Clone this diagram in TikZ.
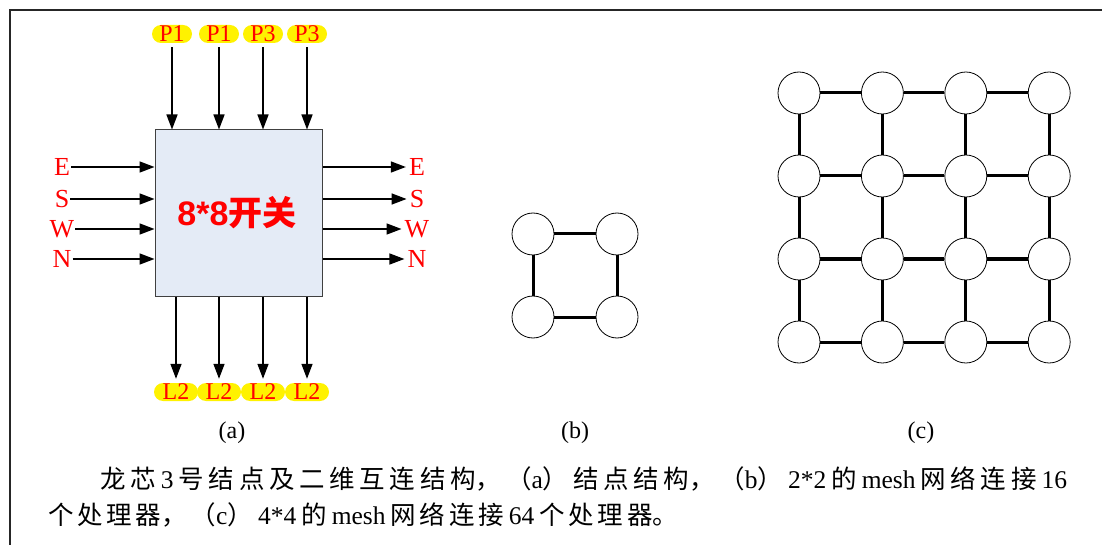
\documentclass[tikz,border=0pt]{standalone}
\usepackage{fontspec}
\usepackage{xcolor}
\usepackage{tikz}
\usetikzlibrary{arrows.meta}
\setmainfont{Liberation Serif}
\newfontfamily\cjk{Noto Sans CJK SC}
\newfontfamily\arialfont{Liberation Sans}
\XeTeXlinebreaklocale "zh"
\XeTeXlinebreakskip=0pt plus 6pt
\definecolor{boxfill}{RGB}{228,235,246}
\newcommand\lat[1]{\hspace{5pt}#1\hspace{5pt}}

\tikzset{
    port/.style={fill=yellow, rounded corners=9pt, minimum width=40pt, minimum height=18pt,
        inner sep=0pt, text=red, font=\fontsize{24}{24}\selectfont},
    dirlabel/.style={text=red, inner sep=0pt, font=\fontsize{26}{26}\selectfont},
    link/.style={line width=1.5pt, -{Triangle[length=15pt,width=11pt]}},
    pe/.style={circle, draw, line width=0.8pt, minimum size=42pt, inner sep=0pt},
    mesh/.style={line width=3pt},
    sublabel/.style={inner sep=0pt, font=\fontsize{24}{24}\selectfont},
    captionline/.style={anchor=west, inner sep=0pt, align=justify, font=\fontsize{25.5}{25.5}\selectfont}
}

\begin{document}
\begin{tikzpicture}[x=1pt,y=-1pt]
    \useasboundingbox (0,0) rectangle (1102,545);
    \draw[line width=1.2pt, black!85] (10,545) -- (10,10) -- (1102,10);

    % (a) the switch
    \node[draw=black!75, line width=1pt, fill=boxfill, minimum width=167pt, minimum height=166pt,
        inner sep=0pt] (sw) at (238.5,213) {};
    \node[text=red, inner sep=0pt, font=\fontsize{34}{34}\selectfont] (swtext) at (237,213)
        {{\arialfont\bfseries 8*8}{\cjk\bfseries 开关}};
    \foreach \i/\x/\t in {1/172/P1, 2/219/P1, 3/263/P3, 4/307/P3} {
        \node[port] (p\i) at (\x,34) {\t};
        \draw[link, shorten <=4pt] (p\i.south) -- (p\i.south |- sw.north);
    }
    \foreach \i/\y/\t in {1/167/E, 2/199/S, 3/229/W, 4/259/N} {
        \node[dirlabel] (in\i) at (62,\y) {\t};
        \node[dirlabel] (out\i) at (417,\y) {\t};
        \draw[link, shorten <=1pt] (in\i.east) -- (in\i.east -| sw.west);
        \draw[link, shorten >=3pt] (out\i.west -| sw.east) -- (out\i.west);
    }
    \foreach \i/\x in {1/176, 2/219, 3/263, 4/307} {
        \node[port, minimum width=44pt] (l\i) at (\x,392) {L2};
        \draw[link, shorten >=4pt] (l\i.north |- sw.south) -- (l\i.north);
    }

    % (b) 2*2 mesh
    \foreach \r/\y in {1/234, 2/317} {
        \foreach \c/\x in {1/533, 2/617} {
            \node[pe] (b\r\c) at (\x,\y) {};
        }
    }
    \draw[mesh] (b11) -- (b12);
    \draw[mesh] (b21) -- (b22);
    \draw[mesh] (b11) -- (b21);
    \draw[mesh] (b12) -- (b22);

    % (c) 4*4 mesh
    \foreach \r in {1,2,3,4} {
        \foreach \c in {1,2,3,4} {
            \node[pe] (c\r\c) at ({799+83.4*(\c-1)},{93+83*(\r-1)}) {};
        }
    }
    \foreach \r in {1,2,3,4} {
        \foreach \c in {1,2,3} {
            \pgfmathtruncatemacro\nxt{\c+1}
            \draw[mesh] (c\r\c) -- (c\r\nxt);
            \draw[mesh] (c\c\r) -- (c\nxt\r);
        }
    }

    \node[sublabel] (capa) at (232,433) {(a)};
    \node[sublabel] (capb) at (575,433) {(b)};
    \node[sublabel] (capc) at (921,433) {(c)};

    % caption
    \node[captionline, text width=967pt] (cap1) at (100,479)
        {\parfillskip=0pt {\cjk 龙芯}\lat{3}{\cjk 号结点及二维互连结构，（}a{\cjk ）结点结构，（}b{\cjk ）}\lat{2*2}{\cjk 的}\lat{mesh}{\cjk 网络连接}\hspace{5pt}16\par};
    \node[captionline, text width=630pt] (cap2) at (48,515)
        {\parfillskip=0pt {\cjk 个处理器，（}c{\cjk ）}\lat{4*4}{\cjk 的}\lat{mesh}{\cjk 网络连接}\lat{64}{\cjk 个处理器。}\par};
\end{tikzpicture}
\end{document}
